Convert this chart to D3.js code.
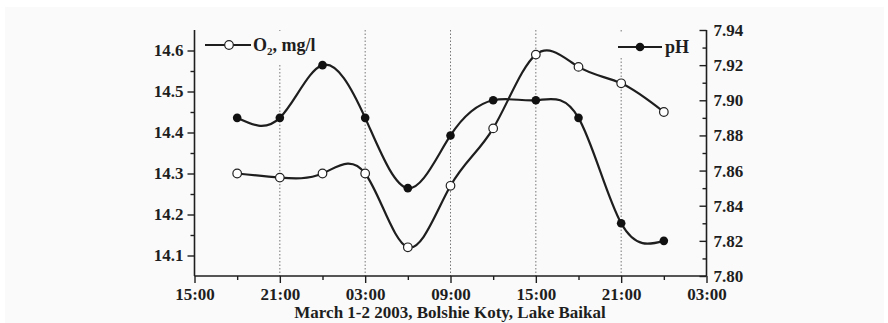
<!DOCTYPE html>
<html><head><meta charset="utf-8">
<script src="https://cdn.jsdelivr.net/npm/d3@7"></script>
<style>
html,body{margin:0;padding:0;background:#fff;}
svg{display:block;}
text{font-family:"Liberation Serif","Times New Roman",serif;font-weight:bold;fill:#1e1e1e;}
</style></head>
<body>
<svg id="chart" width="888" height="323"></svg>
<script>
// ---- data ----
const times = ["2003-03-01T18:00","2003-03-01T21:00","2003-03-02T00:00","2003-03-02T03:00","2003-03-02T06:00","2003-03-02T09:00","2003-03-02T12:00","2003-03-02T15:00","2003-03-02T18:00","2003-03-02T21:00","2003-03-03T00:00"];
const o2Values = [14.30,14.29,14.30,14.30,14.12,14.27,14.41,14.59,14.56,14.52,14.45];
const phValues = [7.89,7.89,7.92,7.89,7.85,7.88,7.90,7.90,7.89,7.83,7.82];
const xTickLabels = ["15:00","21:00","03:00","09:00","15:00","21:00","03:00"];
const leftTicks = [14.1,14.2,14.3,14.4,14.5,14.6];
const rightTicks = [7.80,7.82,7.84,7.86,7.88,7.90,7.92,7.94];
const xLabel = "March 1-2 2003, Bolshie Koty, Lake Baikal";
const o2Label = ["O","2",", mg/l"];
const phLabel = "pH";

const parse = s => new Date(s + ":00Z");
const svg = d3.select("#chart");
const m = {left:194.5, right:706.5, top:30, bottom:276};
const panel = "#fafafa";
const ink = "#1e1e1e";

svg.append("rect").attr("x",5).attr("y",7).attr("width",879).attr("height",316).attr("fill",panel);

const x0 = parse("2003-03-01T15:00"), x1 = parse("2003-03-03T03:00");
const x = d3.scaleUtc().domain([x0, x1]).range([m.left, m.right]);
const yL = d3.scaleLinear().domain([14.05,14.65]).range([m.bottom, m.top]);
const yR = d3.scaleLinear().domain([7.80,7.94]).range([m.bottom, m.top]);

const majorX = d3.utcHour.range(x0, new Date(+x1 + 1), 6);
const allX = d3.utcHour.range(x0, new Date(+x1 + 1), 3);
const minorX = allX.filter(d => !majorX.some(t => +t === +d));

// grid lines (interior majors)
svg.append("g").selectAll("line").data(majorX.slice(1, -1)).join("line")
  .attr("x1", d => x(d)).attr("x2", d => x(d))
  .attr("y1", m.top).attr("y2", m.bottom)
  .attr("stroke","#777").attr("stroke-width",1).attr("stroke-dasharray","1.5,2");

// legend backgrounds (mask gridlines)
svg.append("rect").attr("x",200).attr("y",31).attr("width",128).attr("height",33).attr("fill",panel);
svg.append("rect").attr("x",612).attr("y",33).attr("width",86).attr("height",25).attr("fill",panel);

// axes
const fs = "17px";
const gx = svg.append("g").attr("transform",`translate(0,${m.bottom})`)
  .call(d3.axisBottom(x).tickValues(majorX).tickFormat((d,i)=>xTickLabels[i]).tickSize(7).tickPadding(5));
gx.selectAll("text").style("font-size",fs).attr("fill",ink);
svg.append("g").attr("transform",`translate(0,${m.bottom})`)
  .call(d3.axisBottom(x).tickValues(minorX).tickFormat("").tickSize(4))
  .select(".domain").remove();

const gl = svg.append("g").attr("transform",`translate(${m.left},0)`)
  .call(d3.axisLeft(yL).tickValues(leftTicks).tickFormat(d3.format(".1f")).tickSize(7).tickPadding(4));
gl.selectAll("text").style("font-size",fs).attr("fill",ink);
svg.append("g").attr("transform",`translate(${m.left},0)`)
  .call(d3.axisLeft(yL).tickValues(leftTicks.slice(0,-1).map(v=>v+0.05)).tickFormat("").tickSize(4))
  .select(".domain").remove();

const gr = svg.append("g").attr("transform",`translate(${m.right},0)`)
  .call(d3.axisRight(yR).tickValues(rightTicks).tickFormat(d3.format(".2f")).tickSize(-7));
gr.selectAll("text").style("font-size",fs).attr("fill",ink).attr("x",7);
svg.append("g").attr("transform",`translate(${m.right},0)`)
  .call(d3.axisRight(yR).tickValues(rightTicks.slice(0,-1).map(v=>v+0.01)).tickFormat("").tickSize(-4))
  .select(".domain").remove();

svg.selectAll(".domain").attr("stroke",ink).attr("stroke-width",1.6);
svg.selectAll(".tick line").attr("stroke",ink).attr("stroke-width",1.4);
gx.select(".domain").attr("d",`M${m.left},0H${m.right}`);
gl.select(".domain").attr("d",`M0,${m.top}V${m.bottom}`);
gr.select(".domain").attr("d",`M0,${m.top}V${m.bottom}`);

// lines
const o2Data = times.map((t,i)=>({t:parse(t), v:o2Values[i]}));
const phData = times.map((t,i)=>({t:parse(t), v:phValues[i]}));
const lineO2 = d3.line().x(d=>x(d.t)).y(d=>yL(d.v)).curve(d3.curveNatural);
const linePH = d3.line().x(d=>x(d.t)).y(d=>yR(d.v)).curve(d3.curveNatural);
svg.append("path").datum(phData).attr("d",linePH).attr("fill","none").attr("stroke",ink).attr("stroke-width",2.2);
svg.append("path").datum(o2Data).attr("d",lineO2).attr("fill","none").attr("stroke",ink).attr("stroke-width",2.2);
svg.append("g").selectAll("circle").data(phData).join("circle")
  .attr("cx",d=>x(d.t)).attr("cy",d=>yR(d.v)).attr("r",4.3).attr("fill","#111");
svg.append("g").selectAll("circle").data(o2Data).join("circle")
  .attr("cx",d=>x(d.t)).attr("cy",d=>yL(d.v)).attr("r",4.3).attr("fill","#fff").attr("stroke","#222").attr("stroke-width",1.2);

// legends
svg.append("line").attr("x1",205).attr("x2",251).attr("y1",45).attr("y2",45).attr("stroke",ink).attr("stroke-width",2);
svg.append("circle").attr("cx",229).attr("cy",45).attr("r",4.3).attr("fill","#fff").attr("stroke","#222").attr("stroke-width",1.2);
const t1 = svg.append("text").attr("x",253).attr("y",51).style("font-size","18px");
t1.append("tspan").text(o2Label[0]);
t1.append("tspan").text(o2Label[1]).style("font-size","11px").attr("dy",4);
t1.append("tspan").text(o2Label[2]).attr("dy",-4);

svg.append("line").attr("x1",618).attr("x2",662).attr("y1",47).attr("y2",47).attr("stroke",ink).attr("stroke-width",2);
svg.append("circle").attr("cx",640).attr("cy",47).attr("r",4.3).attr("fill","#111");
svg.append("text").attr("x",665).attr("y",53).style("font-size","18px").text(phLabel);

// x label
svg.append("text").attr("x",450).attr("y",318).attr("text-anchor","middle").style("font-size","17px").text(xLabel);
</script>
</body></html>
